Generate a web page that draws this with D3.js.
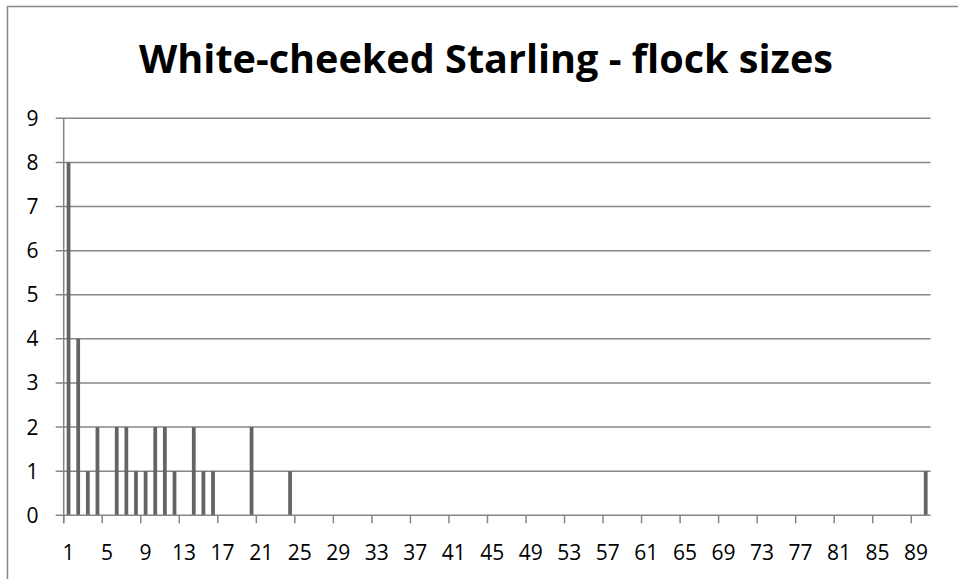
<!DOCTYPE html>
<html>
<head>
<meta charset="utf-8">
<script src="https://cdn.jsdelivr.net/npm/d3@7"></script>
<style>
  html, body { margin: 0; padding: 0; background: #fff; }
  svg { display: block; }
</style>
</head>
<body>
<svg id="chart" width="958" height="579"></svg>
<script>
const chartTitle = "White-cheeked Starling - flock sizes";
const categories = [1,2,3,4,5,6,7,8,9,10,11,12,13,14,15,16,17,18,19,20,
  21,22,23,24,25,26,27,28,29,30,31,32,33,34,35,36,37,38,39,40,
  41,42,43,44,45,46,47,48,49,50,51,52,53,54,55,56,57,58,59,60,
  61,62,63,64,65,66,67,68,69,70,71,72,73,74,75,76,77,78,79,80,
  81,82,83,84,85,86,87,88,89,90];
const counts = [8,4,1,2,0,2,2,1,1,2,2,1,0,2,1,1,0,0,0,2,
  0,0,0,1,0,0,0,0,0,0,0,0,0,0,0,0,0,0,0,0,
  0,0,0,0,0,0,0,0,0,0,0,0,0,0,0,0,0,0,0,0,
  0,0,0,0,0,0,0,0,0,0,0,0,0,0,0,0,0,0,0,0,
  0,0,0,0,0,0,0,0,0,1];
const xTickLabels = [1,5,9,13,17,21,25,29,33,37,41,45,49,53,57,61,65,69,73,77,81,85,89];
const yTicks = [0,1,2,3,4,5,6,7,8,9];

const svg = d3.select("#chart");
const grey = "#868686";
const barColor = "#646464";
const font = "'Open Sans', 'Liberation Sans', sans-serif";

// outer chart border (only top & left visible)
svg.append("rect")
  .attr("x", 7.5).attr("y", 6.5)
  .attr("width", 1100).attr("height", 1100)
  .attr("fill", "#fff").attr("stroke", grey).attr("stroke-width", 1.5);

const plot = { left: 63.7, right: 930.5, top: 118.3, bottom: 515.3 };

const x = d3.scaleBand().domain(categories).range([plot.left, plot.right]).padding(0);
const y = d3.scaleLinear().domain([0, 9]).range([plot.bottom, plot.top]);

// gridlines (extend to the left as y tick marks)
svg.append("g").selectAll("line").data(yTicks.filter(d => d > 0)).join("line")
  .attr("x1", plot.left - 8).attr("x2", plot.right)
  .attr("y1", d => y(d)).attr("y2", d => y(d))
  .attr("stroke", grey).attr("stroke-width", 1.5);

// bars
const bw = x.bandwidth();
svg.append("g").selectAll("rect").data(categories.map((c, i) => ({ c, v: counts[i] })).filter(d => d.v > 0))
  .join("rect")
  .attr("x", d => x(d.c) + bw * 0.31)
  .attr("width", bw * 0.39)
  .attr("y", d => y(d.v))
  .attr("height", d => y(0) - y(d.v))
  .attr("fill", barColor);

// y axis line
svg.append("line")
  .attr("x1", plot.left).attr("x2", plot.left)
  .attr("y1", plot.top).attr("y2", plot.bottom + 8)
  .attr("stroke", grey).attr("stroke-width", 1.5);

// x axis line (with tick at 0)
svg.append("line")
  .attr("x1", plot.left - 8).attr("x2", plot.right)
  .attr("y1", y(0)).attr("y2", y(0))
  .attr("stroke", grey).attr("stroke-width", 1.5);

// x tick marks at category boundaries every 4 categories
svg.append("g").selectAll("line").data(xTickLabels).join("line")
  .attr("x1", d => x(d)).attr("x2", d => x(d))
  .attr("y1", y(0)).attr("y2", y(0) + 8)
  .attr("stroke", grey).attr("stroke-width", 1.5);

// x labels
svg.append("g").selectAll("text").data(xTickLabels).join("text")
  .attr("x", d => x(d) + bw / 2)
  .attr("y", 559.5)
  .attr("text-anchor", "middle")
  .attr("font-family", font).attr("font-size", 21).attr("fill", "#000")
  .text(d => d);

// y labels
svg.append("g").selectAll("text").data(yTicks).join("text")
  .attr("x", 38.5)
  .attr("y", d => y(d) + 7.5)
  .attr("text-anchor", "end")
  .attr("font-family", font).attr("font-size", 21).attr("fill", "#000")
  .text(d => d);

// title
const t = svg.append("text")
  .attr("x", 486).attr("y", 73)
  .attr("text-anchor", "middle")
  .attr("font-family", font).attr("font-weight", "bold")
  .attr("font-size", 40).attr("fill", "#000")
  .text(chartTitle);
const w = t.node().getComputedTextLength();
t.attr("font-size", 40 * 694 / w);
</script>
</body>
</html>
